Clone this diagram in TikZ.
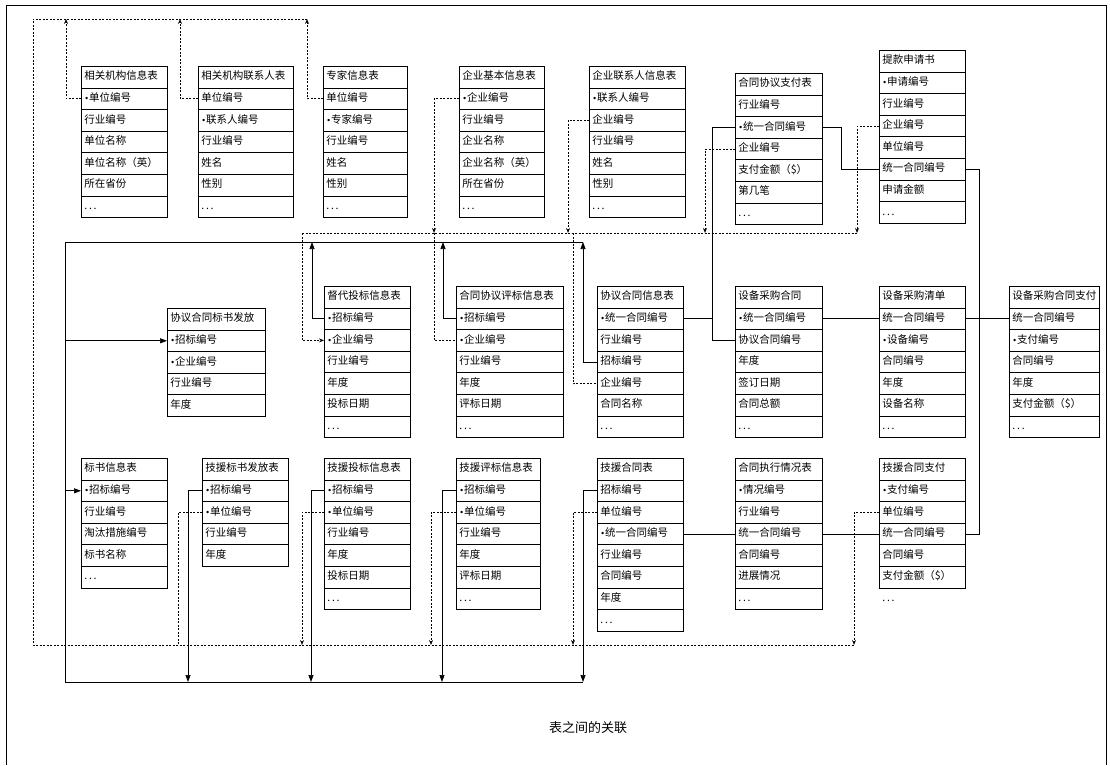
\documentclass[tikz,border=0pt]{standalone}
\usepackage{fontspec}
\setmainfont{Noto Sans CJK SC}
\newfontfamily\dotfont{DejaVu Sans}
\usetikzlibrary{arrows.meta}

\newcommand{\etc}{.\,.\,.}
\newcommand{\pk}{{\dotfont\fontsize{8}{10}\selectfont •}}
% one table: name, top left corner, width, rows
\newcommand{\dbtable}[4]{%
  \pgfmathsetmacro{\colw}{#3-6}%
  \foreach \f [count=\i from 0] in {#4}
    \node[tabrow, minimum width=#3pt, text width=\colw pt, yshift=-\i*21.6pt] (#1-\i) at (#2) {\f};%
}

\begin{document}
\begin{tikzpicture}[x=1pt,y=-1pt,
    tabrow/.style={draw,line width=0.8pt,anchor=north west,minimum height=21.6pt,inner xsep=3pt,inner ysep=0pt,
      text height=8pt,text depth=2.5pt,align=left,font=\fontsize{10.5}{12}\selectfont},
    pkline/.style={line width=0.7pt},
    fkline/.style={line width=0.7pt,dash pattern=on 2pt off 1.5pt},
    pkarrow/.style={-{Triangle[length=7pt,width=5pt]}},
    fkarrow/.style={-{Stealth[open,length=5pt,width=4pt]}}]
  \useasboundingbox (0,0) rectangle (1110,765);
  \draw[line width=0.8pt] (6,765) -- (6,5) -- (1106,5) -- (1106,765);

  % top row
  \dbtable{xg}{81,66}{86}{相关机构信息表,\pk 单位编号,行业编号,单位名称,单位名称（英）,所在省份,\etc}
  \dbtable{xl}{198,66}{95}{相关机构联系人表,单位编号,\pk 联系人编号,行业编号,姓名,性别,\etc}
  \dbtable{zj}{323,66}{84}{专家信息表,单位编号,\pk 专家编号,行业编号,姓名,性别,\etc}
  \dbtable{qy}{459,66}{85}{企业基本信息表,\pk 企业编号,行业编号,企业名称,企业名称（英）,所在省份,\etc}
  \dbtable{ql}{589,66}{96}{企业联系人信息表,\pk 联系人编号,企业编号,行业编号,姓名,性别,\etc}
  \dbtable{zf}{735,73}{87}{合同协议支付表,行业编号,\pk 统一合同编号,企业编号,支付金额（\$）,第几笔,\etc}
  \dbtable{tk}{879,50}{86}{提款申请书,\pk 申请编号,行业编号,企业编号,单位编号,统一合同编号,申请金额,\etc}

  % middle row
  \dbtable{xf}{167,308}{98}{协议合同标书发放,\pk 招标编号,\pk 企业编号,行业编号,年度}
  \dbtable{dd}{324,286}{86}{督代投标信息表,\pk 招标编号,\pk 企业编号,行业编号,年度,投标日期,\etc}
  \dbtable{hp}{456,286}{107}{合同协议评标信息表,\pk 招标编号,\pk 企业编号,行业编号,年度,评标日期,\etc}
  \dbtable{xy}{597,286}{86}{协议合同信息表,\pk 统一合同编号,行业编号,招标编号,企业编号,合同名称,\etc}
  \dbtable{sc}{735,286}{87}{设备采购合同,\pk 统一合同编号,协议合同编号,年度,签订日期,合同总额,\etc}
  \dbtable{sq}{879,286}{86}{设备采购清单,统一合同编号,\pk 设备编号,合同编号,年度,设备名称,\etc}
  \dbtable{sz}{1009,286}{90}{设备采购合同支付,统一合同编号,\pk 支付编号,合同编号,年度,支付金额（\$）,\etc}

  % bottom row
  \dbtable{bs}{81,458}{86}{标书信息表,\pk 招标编号,行业编号,淘汰措施编号,标书名称,\etc}
  \dbtable{jf}{202,458}{86}{技援标书发放表,\pk 招标编号,\pk 单位编号,行业编号,年度}
  \dbtable{jt}{324,458}{86}{技援投标信息表,\pk 招标编号,\pk 单位编号,行业编号,年度,投标日期,\etc}
  \dbtable{jp}{456,458}{84}{技援评标信息表,\pk 招标编号,\pk 单位编号,行业编号,年度,评标日期,\etc}
  \dbtable{jh}{597,458}{86}{技援合同表,招标编号,单位编号,\pk 统一合同编号,行业编号,合同编号,年度,\etc}
  \dbtable{zx}{735,458}{87}{合同执行情况表,\pk 情况编号,行业编号,统一合同编号,合同编号,进展情况,\etc}
  \dbtable{jz}{879,458}{86}{技援合同支付,\pk 支付编号,单位编号,统一合同编号,合同编号,支付金额（\$）}
  \node[tabrow, draw=none, minimum width=86pt, text width=80pt] (jz-6) at (879,588) {\etc};

  \node[font=\fontsize{13}{15}\selectfont] (cap) at (588,728) {表之间的关联};

  % bus points
  \coordinate (tL) at (33,19);   \coordinate (t1) at (66,19);
  \coordinate (t2) at (180,19);  \coordinate (t3) at (307,19);
  \coordinate (bL) at (33,645);  \coordinate (b1) at (178,645);
  \coordinate (b2) at (302,645); \coordinate (b3) at (431,645);
  \coordinate (b4) at (573,645); \coordinate (b5) at (854,645);
  \coordinate (m0) at (302,233); \coordinate (m1) at (434,233);
  \coordinate (m2) at (568,233); \coordinate (m5) at (573,233);
  \coordinate (m3) at (705,233); \coordinate (m4) at (857,233);
  \coordinate (s0) at (65,242);  \coordinate (s1) at (312,242);
  \coordinate (s2) at (443,242); \coordinate (s3) at (583,242);
  \coordinate (u0) at (65,682);  \coordinate (u1) at (188,682);
  \coordinate (u2) at (311,682); \coordinate (u3) at (442,682);
  \coordinate (u4) at (583,682);

  % dashed keys
  \draw[fkline] (t3) -- (tL) -- (bL) -- (b5);
  \draw[fkline] (m0) -- (m4);
  \draw[fkline,fkarrow] (xg-1.west) -| (t1);
  \draw[fkline,fkarrow] (xl-1.west) -| (t2);
  \draw[fkline,fkarrow] (zj-1.west) -| (t3);
  \draw[fkline,fkarrow] (qy-1.west) -| (m1);
  \draw[fkline,fkarrow] (ql-2.west) -| (m2);
  \draw[fkline,fkarrow] (zf-3.west) -| (m3);
  \draw[fkline,fkarrow] (tk-3.west) -| (m4);
  \draw[fkline,fkarrow] (m0) |- (dd-2.west);
  \draw[fkline] (m1) |- (hp-2.west);
  \draw[fkline] (m5) |- (xy-4.west);
  \draw[fkline] (jf-2.west) -| (b1);
  \draw[fkline,fkarrow] (jt-2.west) -| (b2);
  \draw[fkline,fkarrow] (jp-2.west) -| (b3);
  \draw[fkline,fkarrow] (jh-2.west) -| (b4);
  \draw[fkline,fkarrow] (jz-2.west) -| (b5);

  % solid keys
  \draw[pkline] (s3) -- (s0) -- (u0) -- (u4);
  \draw[pkline,pkarrow] (s0 |- xf-1) -- (xf-1.west);
  \draw[pkline,pkarrow] (s0 |- bs-1) -- (bs-1.west);
  \draw[pkline,pkarrow] (dd-1.west) -| (s1);
  \draw[pkline,pkarrow] (hp-1.west) -| (s2);
  \draw[pkline,pkarrow] (xy-3.west) -| (s3);
  \draw[pkline,pkarrow] (jf-1.west) -| (u1);
  \draw[pkline,pkarrow] (jt-1.west) -| (u2);
  \draw[pkline,pkarrow] (jp-1.west) -| (u3);
  \draw[pkline,pkarrow] (jh-1.west) -| (u4);
  \draw[pkline] (zf-2.west) -| ([xshift=-23pt]sc-2.west) -- (sc-2.west);
  \draw[pkline] (xy-1.east) -- ([xshift=-23pt]sc-1.west);
  \draw[pkline] (zf-2.east) -| ([xshift=-38pt]tk-5.west) -- (tk-5.west);
  \draw[pkline] (sc-1.east) -- (sq-1.west);
  \draw[pkline] (sq-1.east) -- (sz-1.west);
  \draw[pkline] (tk-5.east) -| ([xshift=14pt]jz-3.east) -- (jz-3.east);
  \draw[pkline] (jh-3.east) -- (zx-3.west);
  \draw[pkline] (zx-3.east) -- (jz-3.west);
\end{tikzpicture}
\end{document}
